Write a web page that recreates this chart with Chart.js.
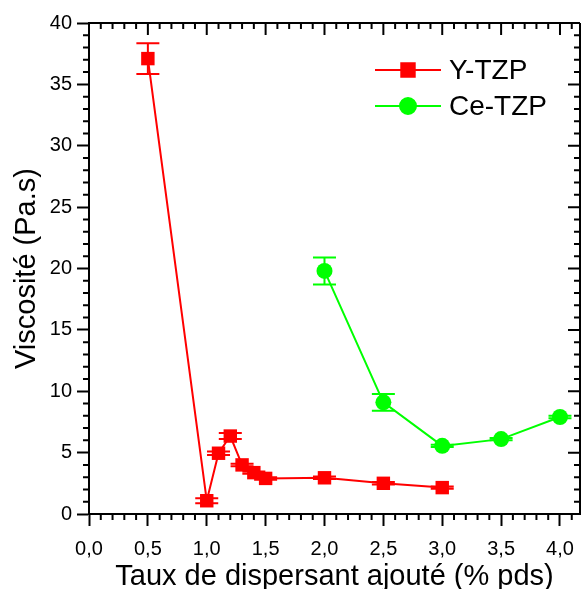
<!DOCTYPE html>
<html>
<head>
<meta charset="utf-8">
<script src="https://cdn.jsdelivr.net/npm/chart.js@4.4.1/dist/chart.umd.min.js"></script>
<style>
  html, body { margin: 0; padding: 0; background: #fff; }
</style>
</head>
<body>
<canvas id="viscChart" width="581" height="589"></canvas>
<script>
//data
const seriesNames = ['Y-TZP', 'Ce-TZP'];
const ytzpX = [0.5, 1.0, 1.1, 1.2, 1.3, 1.4, 1.5, 2.0, 2.5, 3.0];
const ytzpY = [37.1, 1.08, 4.95, 6.35, 4.0, 3.37, 2.9, 2.95, 2.5, 2.15];
const ytzpErr = [1.25, 0.2, 0.15, 0.25, 0.1, 0.1, 0.1, 0.1, 0.1, 0.1];
const cetzpX = [2.0, 2.5, 3.0, 3.5, 4.0];
const cetzpY = [19.8, 9.1, 5.55, 6.1, 7.9];
const cetzpErr = [1.1, 0.68, 0.1, 0.1, 0.1];
const xTicks = [0, 0.5, 1.0, 1.5, 2.0, 2.5, 3.0, 3.5, 4.0];
const yTicks = [0, 5, 10, 15, 20, 25, 30, 35, 40];
const xTitle = 'Taux de dispersant ajouté (% pds)';
const yTitle = 'Viscosité (Pa.s)';

const FONT = "'Liberation Sans', Arial, sans-serif";

function toPoints(xs, ys, errs) {
    return xs.map((x, i) => ({ x: x, y: ys[i], err: errs[i] }));
}

//error bars, mirror axes, minor ticks and legend
const extras = {
    id: 'extras',
    beforeDatasetsDraw(chart) {
        const ctx = chart.ctx;
        const xs = chart.scales.x, ys = chart.scales.y;
        ctx.save();
        chart.data.datasets.forEach(ds => {
            ctx.strokeStyle = ds.borderColor;
            ctx.lineWidth = 2;
            ds.data.forEach(p => {
                const px = xs.getPixelForValue(p.x);
                const top = ys.getPixelForValue(p.y + p.err);
                const bot = ys.getPixelForValue(p.y - p.err);
                ctx.beginPath();
                ctx.moveTo(px, top); ctx.lineTo(px, bot);
                ctx.moveTo(px - 11.5, top); ctx.lineTo(px + 11.5, top);
                ctx.moveTo(px - 11.5, bot); ctx.lineTo(px + 11.5, bot);
                ctx.stroke();
            });
        });
        ctx.restore();
    },
    afterDraw(chart) {
        const ctx = chart.ctx;
        const a = chart.chartArea;
        const xs = chart.scales.x, ys = chart.scales.y;
        ctx.save();
        ctx.strokeStyle = '#000';
        ctx.lineWidth = 2;
        //frame
        ctx.beginPath();
        ctx.moveTo(a.left, a.top); ctx.lineTo(a.right, a.top);
        ctx.moveTo(a.right, a.top); ctx.lineTo(a.right, a.bottom);
        ctx.stroke();
        //x minor ticks + top ticks
        ctx.beginPath();
        for (let i = 0; i <= 41; i++) {
            const v = i / 10;
            const px = xs.getPixelForValue(v);
            if (px > a.right) break;
            const major = i % 5 === 0;
            const len = major ? 12 : 6;
            if (!major) { ctx.moveTo(px, a.bottom); ctx.lineTo(px, a.bottom + len); }
            ctx.moveTo(px, a.top); ctx.lineTo(px, a.top + len);
        }
        //y minor ticks + right ticks
        for (let v = 0; v <= 40; v++) {
            const py = ys.getPixelForValue(v);
            const major = v % 5 === 0;
            const len = major ? 12 : 6;
            if (!major) { ctx.moveTo(a.left, py); ctx.lineTo(a.left - len, py); }
            ctx.moveTo(a.right, py); ctx.lineTo(a.right - len, py);
        }
        ctx.stroke();

        //legend
        ctx.font = '28px ' + FONT;
        ctx.textBaseline = 'middle';
        ctx.textAlign = 'left';
        chart.data.datasets.forEach((ds, i) => {
            const ly = a.top + 47 + i * 36;
            ctx.strokeStyle = ds.borderColor;
            ctx.lineWidth = 2;
            ctx.beginPath();
            ctx.moveTo(375, ly); ctx.lineTo(441, ly);
            ctx.stroke();
            Chart.helpers.drawPoint(ctx, {
                pointStyle: ds.pointStyle, radius: ds.pointRadius, borderWidth: 1
            }, 408, ly);
            ctx.fillStyle = ds.backgroundColor;
            ctx.fill();
            ctx.fillStyle = '#000';
            ctx.fillText(ds.label, 449, ly + 1);
        });
        ctx.restore();
    }
};

const ctx = document.getElementById('viscChart').getContext('2d');
new Chart(ctx, {
    type: 'line',
    data: {
        datasets: [{
            label: seriesNames[0],
            data: toPoints(ytzpX, ytzpY, ytzpErr),
            borderColor: '#ff0000',
            backgroundColor: '#ff0000',
            borderWidth: 2,
            pointStyle: 'rect',
            pointRadius: 9.5,
            pointBorderWidth: 0,
            tension: 0
        }, {
            label: seriesNames[1],
            data: toPoints(cetzpX, cetzpY, cetzpErr),
            borderColor: '#00ff00',
            backgroundColor: '#00ff00',
            borderWidth: 2,
            pointStyle: 'circle',
            pointRadius: 8,
            pointBorderWidth: 0,
            tension: 0
        }]
    },
    options: {
        responsive: false,
        animation: false,
        devicePixelRatio: 1,
        layout: { autoPadding: false, padding: { top: 23, right: 1, left: 0, bottom: 0 } },
        plugins: { legend: { display: false }, tooltip: { enabled: false } },
        scales: {
            x: {
                type: 'linear',
                min: 0,
                max: 4.17,
                afterBuildTicks: s => { s.ticks = xTicks.map(v => ({ value: v })); },
                afterFit: s => { s.height = 75; s.paddingRight = 0; s.paddingLeft = 0; },
                grid: { display: true, drawOnChartArea: false, drawTicks: true, tickLength: 12, tickColor: '#000', tickWidth: 2 },
                border: { display: true, color: '#000', width: 2 },
                ticks: {
                    color: '#000',
                    font: { family: FONT, size: 20 },
                    padding: 11,
                    maxRotation: 0,
                    callback: v => v.toFixed(1).replace('.', ',')
                },
                title: {
                    display: true, text: xTitle, color: '#000',
                    font: { family: FONT, size: 29, lineHeight: 0.8 },
                    padding: { top: 0, bottom: 0 }
                }
            },
            y: {
                type: 'linear',
                min: 0,
                max: 40,
                afterBuildTicks: s => { s.ticks = yTicks.map(v => ({ value: v })); },
                afterFit: s => { s.width = 89; s.paddingTop = 0; s.paddingBottom = 0; },
                grid: { display: true, drawOnChartArea: false, drawTicks: true, tickLength: 12, tickColor: '#000', tickWidth: 2 },
                border: { display: true, color: '#000', width: 2 },
                ticks: {
                    color: '#000',
                    font: { family: FONT, size: 20 },
                    padding: 5,
                    callback: v => String(v)
                },
                title: {
                    display: true, text: yTitle, color: '#000',
                    font: { family: FONT, size: 29, lineHeight: 1 },
                    padding: { top: 12, bottom: 0 }
                }
            }
        }
    },
    plugins: [extras]
});
</script>
</body>
</html>
